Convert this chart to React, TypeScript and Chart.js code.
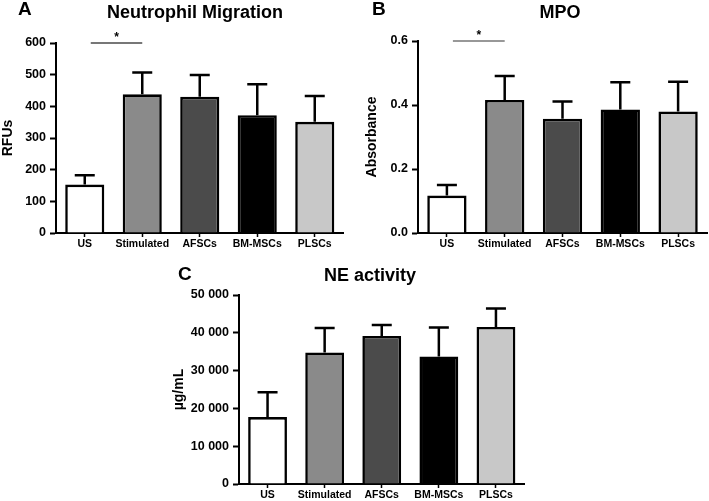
import React, { useEffect, useRef } from 'react';
import { Chart, registerables } from 'chart.js';

Chart.register(...registerables);

const categories = ['US', 'Stimulated', 'AFSCs', 'BM-MSCs', 'PLSCs'];
const barColors = ['#ffffff', '#8a8a8a', '#4b4b4b', '#000000', '#c8c8c8'];

const migrationMeans = [153, 438, 430, 372, 351];
const migrationErrors = [29, 69, 69, 98, 82];

const mpoMeans = [0.117, 0.416, 0.357, 0.386, 0.38];
const mpoErrors = [0.033, 0.075, 0.054, 0.085, 0.093];

const neMeans = [17700, 34800, 39150, 33750, 41550];
const neErrors = [6600, 6450, 2900, 7650, 4900];

const FONT = '"Liberation Sans", Arial, Helvetica, sans-serif';

type PanelProps = {
  letter: string;
  title: string;
  yTitle: string;
  means: number[];
  errors: number[];
  yMax: number;
  yStep: number;
  fmt: (v: number) => string;
  sig: boolean;
  box: { left: number; top: number; width: number; height: number };
  area: { yWidth: number; top: number; right: number; xHeight: number };
  text: { letterX: number; letterY: number; titleX: number; titleY: number; yTitlePad: number };
  sigStyle?: { color: string; width: number };
};

function Panel(p: PanelProps) {
  const ref = useRef<HTMLCanvasElement | null>(null);
  useEffect(() => {
    if (!ref.current) return;
    const errorBars = {
      id: 'errorBars',
      afterDatasetsDraw(chart: any) {
        const ctx = chart.ctx;
        const meta = chart.getDatasetMeta(0);
        const ys = chart.scales.y;
        ctx.save();
        ctx.strokeStyle = '#000';
        ctx.lineWidth = 2.5;
        ctx.lineCap = 'butt';
        p.means.forEach((m, i) => {
          const x = meta.data[i].x;
          const y0 = ys.getPixelForValue(m);
          const y1 = ys.getPixelForValue(m + p.errors[i]);
          ctx.beginPath();
          ctx.moveTo(x, y0);
          ctx.lineTo(x, y1);
          ctx.moveTo(x - 10, y1);
          ctx.lineTo(x + 10, y1);
          ctx.stroke();
        });
        ctx.restore();
      },
    };
    const texts = {
      id: 'texts',
      afterDraw(chart: any) {
        const ctx = chart.ctx;
        ctx.save();
        ctx.fillStyle = '#000';
        ctx.textBaseline = 'alphabetic';
        ctx.font = `bold 19px ${FONT}`;
        ctx.textAlign = 'left';
        ctx.fillText(p.letter, p.text.letterX, p.text.letterY);
        ctx.font = `bold 18px ${FONT}`;
        ctx.textAlign = 'center';
        ctx.fillText(p.title, p.text.titleX, p.text.titleY);
        if (p.sig) {
          const xs = chart.scales.x;
          const ys = chart.scales.y;
          const x0 = xs.getPixelForValue(0) + 6;
          const x1 = xs.getPixelForValue(1);
          const y = ys.getPixelForValue(p.yMax);
          const st = p.sigStyle || { color: '#666', width: 1.5 };
          ctx.strokeStyle = st.color;
          ctx.lineWidth = st.width;
          ctx.beginPath();
          ctx.moveTo(x0, y);
          ctx.lineTo(x1, y);
          ctx.stroke();
          ctx.font = `bold 12px ${FONT}`;
          ctx.fillText('*', (x0 + x1) / 2, y - 2);
        }
        ctx.restore();
      },
    };
    const chart = new Chart(ref.current, {
      type: 'bar',
      data: {
        labels: categories,
        datasets: [
          {
            data: p.means,
            backgroundColor: barColors,
            borderColor: '#000',
            borderWidth: 2.6,
            barPercentage: 0.68,
            categoryPercentage: 1,
          },
        ],
      },
      options: {
        responsive: false,
        animation: false,
        devicePixelRatio: 1,
        layout: { padding: { top: p.area.top, right: p.area.right, bottom: 0, left: 0 } },
        plugins: { legend: { display: false }, tooltip: { enabled: false }, title: { display: false } },
        scales: {
          x: {
            offset: true,
            afterFit: (s: any) => {
              s.height = p.area.xHeight;
            },
            grid: {
              offset: false,
              drawOnChartArea: false,
              drawTicks: true,
              tickLength: 4,
              tickWidth: 1.5,
              tickColor: '#000',
            },
            border: { display: true, color: '#000', width: 2 },
            ticks: {
              autoSkip: false,
              maxRotation: 0,
              minRotation: 0,
              padding: 1,
              color: '#000',
              font: { family: FONT, size: 10.5, weight: 'bold' },
            },
          },
          y: {
            min: 0,
            max: p.yMax,
            afterFit: (s: any) => {
              s.width = p.area.yWidth;
            },
            grid: {
              drawOnChartArea: false,
              drawTicks: true,
              tickLength: 6,
              tickWidth: 2,
              tickColor: '#000',
            },
            border: { display: true, color: '#000', width: 2 },
            ticks: {
              stepSize: p.yStep,
              padding: 4,
              color: '#000',
              font: { family: FONT, size: 12.5, weight: 'bold' },
              callback: (v: any) => p.fmt(Number(v)),
            },
            title: {
              display: true,
              text: p.yTitle,
              color: '#000',
              padding: { top: p.text.yTitlePad, bottom: 0 },
              font: { family: FONT, size: 14, weight: 'bold' },
            },
          },
        },
      },
      plugins: [errorBars, texts],
    } as any);
    return () => chart.destroy();
  }, []);
  return (
    <div
      style={{
        position: 'absolute',
        left: p.box.left,
        top: p.box.top,
        width: p.box.width,
        height: p.box.height,
      }}
    >
      <canvas ref={ref} width={p.box.width} height={p.box.height} />
    </div>
  );
}

const fmtInt = (v: number) => String(Math.round(v));
const fmtDec = (v: number) => v.toFixed(1);
const fmtSpace = (v: number) => String(Math.round(v)).replace(/\B(?=(\d{3})+(?!\d))/g, ' ');

export default function App() {
  return (
    <div
      style={{
        position: 'absolute',
        left: 0,
        top: 0,
        width: 709,
        height: 501,
        background: '#fff',
        overflow: 'hidden',
      }}
    >
      <Panel
        letter="A"
        title="Neutrophil Migration"
        yTitle="RFUs"
        means={migrationMeans}
        errors={migrationErrors}
        yMax={600}
        yStep={100}
        fmt={fmtInt}
        sig={true}
        sigStyle={{ color: '#777', width: 2 }}
        box={{ left: 0, top: 0, width: 355, height: 250 }}
        area={{ yWidth: 56, top: 43, right: 11.5, xHeight: 17 }}
        text={{ letterX: 18, letterY: 15, titleX: 195, titleY: 18, yTitlePad: 0 }}
      />
      <Panel
        letter="B"
        title="MPO"
        yTitle="Absorbance"
        means={mpoMeans}
        errors={mpoErrors}
        yMax={0.6}
        yStep={0.2}
        fmt={fmtDec}
        sig={true}
        sigStyle={{ color: '#333', width: 1.2 }}
        box={{ left: 360, top: 0, width: 349, height: 250 }}
        area={{ yWidth: 58, top: 41, right: 2, xHeight: 17 }}
        text={{ letterX: 12, letterY: 15, titleX: 200, titleY: 18, yTitlePad: 4 }}
      />
      <Panel
        letter="C"
        title="NE activity"
        yTitle="µg/mL"
        means={neMeans}
        errors={neErrors}
        yMax={50000}
        yStep={10000}
        fmt={fmtSpace}
        sig={false}
        box={{ left: 170, top: 255, width: 360, height: 246 }}
        area={{ yWidth: 69, top: 40, right: 5.5, xHeight: 17 }}
        text={{ letterX: 8, letterY: 25, titleX: 200, titleY: 26, yTitlePad: 1 }}
      />
    </div>
  );
}
